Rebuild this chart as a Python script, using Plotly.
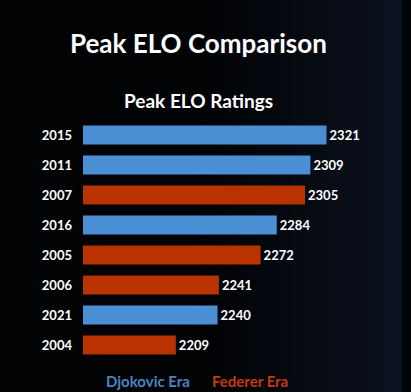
import plotly.graph_objects as go

years = ["2015", "2011", "2007", "2016", "2005", "2006", "2021", "2004"]
elo = [2321, 2309, 2305, 2284, 2272, 2241, 2240, 2209]
era = ["Djokovic", "Djokovic", "Federer", "Djokovic", "Federer", "Federer", "Djokovic", "Federer"]

era_colors = {"Djokovic": "#4a8fd3", "Federer": "#b83300"}
legend_text_colors = {"Djokovic": "#4a84c0", "Federer": "#c23a12"}

fig = go.Figure()
fig.add_trace(go.Bar(
    x=elo, y=years, orientation="h",
    marker=dict(color=[era_colors[e] for e in era], line=dict(width=0)),
    width=0.64,
    text=[str(v) for v in elo], textposition="outside",
    textfont=dict(family="Lato", size=13, color="white", weight="bold"),
    cliponaxis=False, showlegend=False, hoverinfo="skip",
))

# background gradient toward the right
shapes = []
n = 60
for i in range(n):
    x0 = 0.35 + i * (0.65 / n)
    x1 = x0 + 0.65 / n + 0.002
    a = ((i + 1) / n) ** 1.3
    shapes.append(dict(type="rect", xref="paper", yref="paper", x0=x0, x1=x1, y0=-0.2, y1=1.55,
                       fillcolor=f"rgba(12,19,32,{a:.3f})", line=dict(width=0), layer="below"))

annotations = [
    dict(text="<b>Peak ELO Comparison</b>", xref="paper", yref="paper", x=(198.5 - 83) / 318, y=1 + (120 - 43) / 240,
         xanchor="center", yanchor="middle", showarrow=False,
         font=dict(family="Lato", size=26, color="white")),
    dict(text="<b>Peak ELO Ratings</b>", xref="paper", yref="paper", x=(198.5 - 83) / 318, y=1 + (120 - 100) / 240,
         xanchor="center", yanchor="middle", showarrow=False,
         font=dict(family="Lato", size=19, color="white")),
]
legend_x = {"Djokovic": 148, "Federer": 250}
for name, label in [("Djokovic", "Djokovic Era"), ("Federer", "Federer Era")]:
    annotations.append(dict(text=f"<b>{label}</b>", xref="paper", yref="paper",
                            x=(legend_x[name] - 83) / 318, y=-(381 - 360) / 240,
                            xanchor="center", yanchor="middle", showarrow=False,
                            font=dict(family="Lato", size=15, color=legend_text_colors[name])))

fig.update_layout(
    width=411, height=392,
    margin=dict(l=83, r=10, t=120, b=32),
    paper_bgcolor="#020305", plot_bgcolor="rgba(0,0,0,0)",
    xaxis=dict(range=[2140, 2140 + 318 / 1.3455], visible=False, showgrid=False, zeroline=False),
    yaxis=dict(categoryorder="array", categoryarray=years, autorange="reversed",
               showgrid=False, zeroline=False, showline=False, ticks="",
               ticklabelstandoff=10,
               tickfont=dict(family="Lato", size=13, color="white", weight="bold")),
    shapes=shapes, annotations=annotations,
    showlegend=False, hovermode=False,
)

fig.write_html("out.html", config={"displayModeBar": False, "staticPlot": True},
               post_script="document.body.style.margin='0';document.body.style.background='#020305';document.body.style.overflow='hidden';")
